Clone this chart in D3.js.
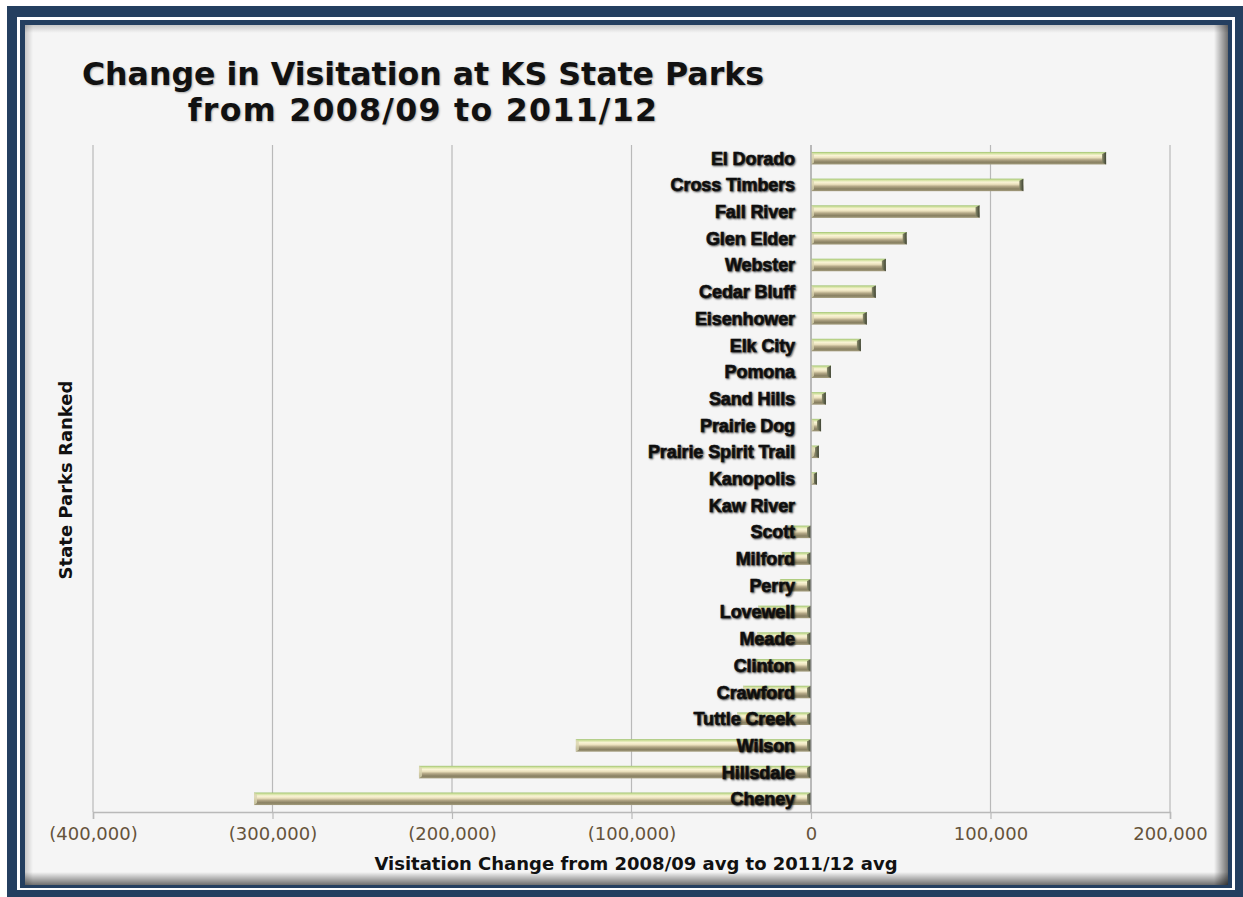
<!DOCTYPE html>
<html><head><meta charset="utf-8">
<script src="https://cdn.jsdelivr.net/npm/d3@7"></script>
<style>body{margin:0;background:#fff}svg{display:block}</style>
</head><body>
<svg id="chart" width="1243" height="897"></svg>
<script>
const parks = ["El Dorado","Cross Timbers","Fall River","Glen Elder","Webster","Cedar Bluff","Eisenhower","Elk City","Pomona","Sand Hills","Prairie Dog","Prairie Spirit Trail","Kanopolis","Kaw River","Scott","Milford","Perry","Lovewell","Meade","Clinton","Crawford","Tuttle Creek","Wilson","Hillsdale","Cheney"];
const changes = [164400,118300,93900,53300,41700,36100,31100,27800,11100,8300,5600,4400,3300,0,-12800,-16200,-17300,-29500,-30100,-32900,-37900,-41200,-131000,-218400,-310300];
const xTicks = [-400000,-300000,-200000,-100000,0,100000,200000];
const titleLines = ["Change in Visitation at KS State Parks","from 2008/09 to 2011/12"];
const xTitle = "Visitation Change from 2008/09 avg to 2011/12 avg";
const yTitle = "State Parks Ranked";

const svg = d3.select("#chart");
const defs = svg.append("defs");

// frame
svg.append("rect").attr("x",7).attr("y",6).attr("width",1236).attr("height",891).attr("fill","#243f60");
svg.append("rect").attr("x",17).attr("y",17).attr("width",1218).attr("height",873).attr("fill","#ffffff");
svg.append("rect").attr("x",20).attr("y",20).attr("width",1212).attr("height",868).attr("fill","#243f60");
svg.append("rect").attr("x",25).attr("y",25).attr("width",1203).attr("height",860).attr("fill","#f5f5f5");

function edgeGrad(id,x1,y1,x2,y2,op){
  const g = defs.append("linearGradient").attr("id",id).attr("x1",x1).attr("y1",y1).attr("x2",x2).attr("y2",y2);
  g.append("stop").attr("offset","0%").attr("stop-color","#000").attr("stop-opacity",op);
  g.append("stop").attr("offset","100%").attr("stop-color","#000").attr("stop-opacity",0);
}
edgeGrad("shR",1,0,0,0,0.55);
edgeGrad("shB",0,1,0,0,0.55);
edgeGrad("shL",0,0,1,0,0.18);
edgeGrad("shT",0,0,0,1,0.18);
svg.append("rect").attr("x",1214).attr("y",25).attr("width",14).attr("height",860).attr("fill","url(#shR)");
svg.append("rect").attr("x",25).attr("y",872).attr("width",1203).attr("height",13).attr("fill","url(#shB)");
svg.append("rect").attr("x",25).attr("y",25).attr("width",8).attr("height",860).attr("fill","url(#shL)");
svg.append("rect").attr("x",25).attr("y",25).attr("width",1203).attr("height",8).attr("fill","url(#shT)");

// bar gradient
const bg = defs.append("linearGradient").attr("id","barG").attr("x1",0).attr("y1",0).attr("x2",0).attr("y2",1);
[["0%","#9fc270"],["12%","#d2e2a0"],["28%","#faf4d6"],["45%","#ebe1bd"],["62%","#b3a786"],["82%","#888062"],["100%","#a39c7c"]]
  .forEach(([o,c])=>bg.append("stop").attr("offset",o).attr("stop-color",c));
const cg = defs.append("linearGradient").attr("id","capG").attr("x1",0).attr("y1",0).attr("x2",1).attr("y2",0);
[["0%","#8a8a6a"],["100%","#3e4434"]].forEach(([o,c])=>cg.append("stop").attr("offset",o).attr("stop-color",c));

const x = d3.scaleLinear().domain([-400000,200000]).range([93,1170]);
const y = d3.scaleBand().domain(parks).range([145,812]).paddingInner(0.53).paddingOuter(0.26);

// gridlines
svg.append("g").selectAll("line").data(xTicks).join("line")
  .attr("x1",d=>x(d)).attr("x2",d=>x(d)).attr("y1",145).attr("y2",812)
  .attr("stroke","#b9b9b9").attr("stroke-width",1.2);

// x axis
const fmt = d3.format(",");
const xAxis = d3.axisBottom(x).tickValues(xTicks).tickSize(7).tickPadding(8)
  .tickFormat(d => d<0 ? "(" + fmt(-d) + ")" : fmt(d));
const ax = svg.append("g").attr("transform","translate(0,812)").call(xAxis);
ax.select(".domain").attr("stroke","#b9b9b9").attr("stroke-width",1.5);
ax.selectAll(".tick line").attr("stroke","#b9b9b9").attr("stroke-width",1.2);
ax.selectAll(".tick text").attr("font-family","'DejaVu Sans', Verdana, sans-serif").attr("font-size",18).attr("fill","#65533b");

// bars
const bars = svg.append("g");
parks.forEach((p,i)=>{
  const v = changes[i];
  if (v === 0) return;
  const x0 = x(Math.min(0,v)), x1 = x(Math.max(0,v));
  const yy = y(p), h = y.bandwidth();
  bars.append("rect").attr("x",x0).attr("y",yy).attr("width",x1-x0).attr("height",h).attr("fill","url(#barG)");
  bars.append("path").attr("d",`M${x1-4},${yy+2} L${x1},${yy} L${x1},${yy+h} L${x1-4},${yy+h-2} Z`).attr("fill","url(#capG)");
  bars.append("path").attr("d",`M${x0},${yy} L${x0+3},${yy+2} L${x0+3},${yy+h-2} L${x0},${yy+h} Z`).attr("fill","#d9d5b0").attr("opacity",0.8);
});

// zero line
svg.append("line").attr("x1",x(0)).attr("x2",x(0)).attr("y1",145).attr("y2",812).attr("stroke","#a9a9a9").attr("stroke-width",1.2);

// category labels
svg.append("g").selectAll("text").data(parks).join("text")
  .attr("x",x(0)-16).attr("y",d=>y(d)+y.bandwidth()/2).attr("dy","0.36em")
  .attr("text-anchor","end")
  .attr("font-family","'Liberation Sans', Arial, sans-serif").attr("font-weight","bold").attr("font-size",18)
  .attr("letter-spacing","-0.1")
  .attr("fill","#111").attr("stroke","#111").attr("stroke-width",0.6)
  .style("text-shadow","1px 1px 2px rgba(0,0,0,0.6)")
  .text(d=>d);

// title
svg.append("text").attr("x",423).attr("text-anchor","middle")
  .attr("font-family","'DejaVu Sans', Verdana, sans-serif").attr("font-weight","bold").attr("font-size",31.6)
  .attr("fill","#111").style("text-shadow","1px 1px 2px rgba(0,0,0,0.3)")
  .selectAll("tspan").data(titleLines).join("tspan")
  .attr("x",423).attr("y",(d,i)=>85+i*36)
  .attr("letter-spacing",(d,i)=> i===1 ? 1.3 : 0)
  .text(d=>d);

// axis titles
svg.append("text").attr("x",636).attr("y",870).attr("text-anchor","middle")
  .attr("font-family","'DejaVu Sans', Verdana, sans-serif").attr("font-weight","bold").attr("font-size",18)
  .attr("fill","#111").text(xTitle);
svg.append("text").attr("transform","translate(72,480) rotate(-90)").attr("text-anchor","middle")
  .attr("font-family","'DejaVu Sans', Verdana, sans-serif").attr("font-weight","bold").attr("font-size",18)
  .attr("fill","#111").text(yTitle);
</script>
</body></html>
